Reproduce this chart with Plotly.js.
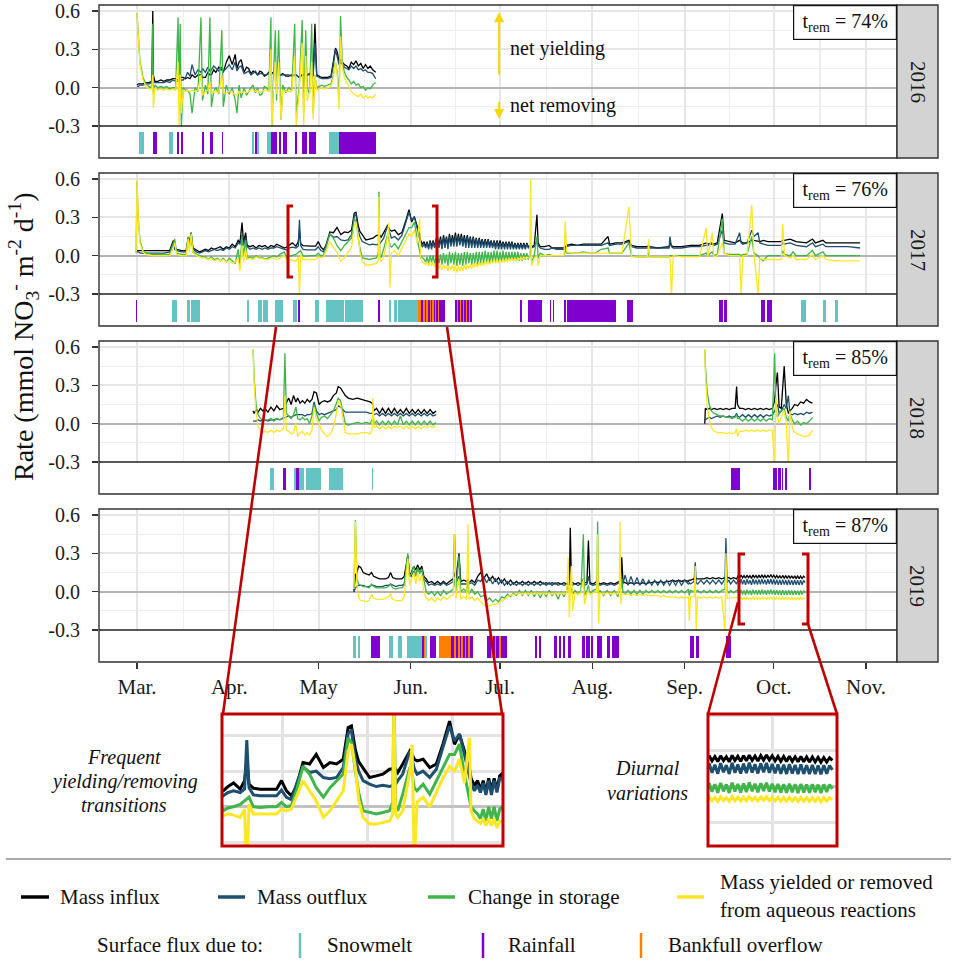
<!DOCTYPE html>
<html><head><meta charset="utf-8">
<script src="https://cdn.plot.ly/plotly-3.0.1.min.js"></script>
<style>html,body{margin:0;padding:0;background:#fff}#chart{width:957px;height:962px}</style>
</head><body><div id="chart"></div>
<script>
// ---------- DATA (day = days since 1 March) ----------
// rows: [day, mass influx, mass outflux, change in storage, mass yielded/removed]
const year2016 = [
[0,.02,.01,.58,.58],[0.5,.03,.01,.35,.33],[1,.03,.02,.2,.18],[2,.03,.02,.08,.06],[3,.04,.03,.03,.01],[4,.04,.03,.01,-.01],
[5,.05,.04,0,-.01],[5.3,.6,.1,.5,.1],[5.5,.1,.05,-.05,-.16],[6,.05,.04,.02,0],[7,.05,.04,0,-.02],[8,.06,.04,.01,-.01],
[9,.05,.04,0,-.02],[10,.06,.05,.01,-.01],[11,.06,.04,-.01,-.02],[12,.07,.06,0,-.01],[13,.07,.05,0,-.02],
[13.8,.06,.05,.55,.2],[14.1,.07,.05,-.05,-.3],[14.5,.08,.06,.5,.1],[14.9,.08,.06,-.3,-.2],[15.5,.08,.06,0,-.02],
[16.3,.07,.08,-.02,-.03],[17,.08,.12,-.02,-.02],[17.8,.07,.09,-.05,-.03],[18.5,.1,.18,-.2,-.02],[19.5,.08,.1,0,-.03],
[20.5,.1,.14,-.03,-.02],[21.5,.1,.12,.55,.1],[22,.08,.15,-.1,-.06],[23,.08,.12,.02,-.03],[23.8,.12,.16,-.05,-.02],
[24.5,.1,.13,.55,.05],[25,.1,.14,-.15,-.05],[25.8,.14,.17,-.03,-.03],[26.5,.12,.15,0,-.03],[27.5,.16,.13,-.05,-.04],
[28.5,.14,.16,.45,.1],[29,.12,.13,-.15,-.04],[30,.2,.15,.02,-.04],[31,.25,.18,-.05,-.03],[32,.18,.14,0,-.04],
[33,.26,.2,-.1,-.05],[33.6,.15,.13,-.2,-.06],[34.3,.2,.16,.02,-.03],[35,.22,.17,-.08,-.04],[36,.12,.11,0,-.03],
[36.8,.16,.12,-.06,-.04],[37.5,.15,.13,-.03,-.03],[38.3,.11,.1,0,-.02],[39,.13,.11,.02,-.02],[39.8,.12,.13,-.04,-.03],
[40.5,.1,.1,0,-.02],[41.3,.13,.11,-.06,-.04],[42,.12,.11,-.05,-.03],[42.8,.09,.1,.01,-.02],[43.5,.1,.1,0,-.02],
[44.3,.12,.11,-.03,-.03],[45,.1,.1,.55,.3],[45.3,.12,.11,-.35,-.35],[45.8,.11,.11,.05,0],[46.5,.13,.12,.45,.2],
[46.9,.12,.1,-.1,-.05],[47.6,.1,.1,.45,.2],[48.4,.1,.1,-.25,-.25],[49,.11,.1,.02,-.02],[50,.09,.1,-.04,-.03],
[51,.09,.1,0,-.03],[52,.1,.09,-.02,-.03],[53,.1,.1,.5,.25],[53.5,.1,.1,-.2,-.3],[54.5,.08,.08,0,-.03],
[55.5,.1,.1,.53,.35],[56,.1,.1,-.2,-.3],[56.7,.1,.1,.45,.25],[57.2,.1,.1,0,-.1],[58,.11,.1,-.05,-.04],
[58.7,.12,.1,.5,.2],[59.2,.1,.09,-.2,-.25],[59.8,.5,.35,.1,.1],[60.4,.1,.09,0,-.02],[61.2,.09,.08,.01,-.01],
[62,.08,.07,.02,0],[63,.08,.07,.01,-.01],[64,.08,.07,.02,0],[65.2,.09,.08,.03,.01],[66,.2,.18,.1,.08],
[66.7,.31,.3,.2,.2],[67.3,.28,.25,.12,.1],[67.9,.2,.18,-.1,-.17],[68.4,.22,.2,.56,.4],[69,.2,.18,.2,.15],
[69.7,.18,.16,.12,.08],[70.5,.17,.15,.08,.04],[71.2,.15,.14,.06,0],[72,.2,.17,.03,-.03],[72.8,.18,.15,.05,-.05],
[73.6,.21,.17,.02,-.06],[74.4,.17,.14,.03,-.07],[75.2,.19,.15,0,-.05],[76,.15,.13,.01,-.08],[76.8,.18,.14,-.02,-.06],
[77.6,.15,.12,0,-.08],[78.4,.17,.12,-.01,-.07],[79.2,.14,.11,.02,-.08],[80.2,.12,.07,.04,-.05]
];
const year2017 = [
[-0.3,.03,.02,.02,.02],[0,.04,.03,.58,.6],[0.4,.04,.03,.3,.3],[1,.04,.02,.12,.1],[2,.04,.02,.04,.03],[3,.04,.02,.02,.01],
[5,.04,.02,.01,0],[7,.04,.02,.01,0],[9,.04,.02,.01,0],[11,.04,.03,.01,0],[12.2,.12,.1,.1,.06],[12.7,.07,.05,.13,.1],
[13.3,.05,.04,.02,.01],[15,.04,.03,.01,0],[16.5,.04,.03,.01,0],[17.2,.14,.12,.15,.13],[17.6,.1,.08,.06,.03],
[18.2,.18,.15,.18,.17],[18.8,.06,.05,.03,.02],[20,.04,.03,.01,0],[21,.03,.02,0,-.01],[22,.04,.03,-.01,-.02],
[23,.05,.04,-.01,-.02],[24,.04,.03,-.03,-.03],[25,.06,.04,-.01,-.02],[26,.05,.05,-.03,-.04],[27,.06,.04,-.02,-.03],
[28,.07,.05,-.04,-.04],[29,.05,.04,-.02,-.03],[30,.07,.06,-.05,-.05],[31,.06,.05,-.02,-.04],[32,.09,.07,-.04,-.06],
[33,.07,.06,-.06,-.05],[34,.12,.1,.05,-.02],[34.6,.1,.09,-.08,-.12],[35.3,.26,.16,.15,.08],[35.8,.1,.08,0,-.05],
[36.5,.18,.14,.12,.05],[37,.08,.07,-.02,-.03],[38,.07,.05,-.01,-.02],[39,.08,.06,-.02,-.03],[40,.06,.05,0,-.01],
[41,.08,.06,-.02,-.02],[42,.07,.05,-.01,-.02],[43,.08,.06,-.03,-.03],[44,.06,.05,-.02,-.03],[45,.08,.06,-.01,-.02],
[46,.07,.06,0,-.02],[47,.09,.07,-.01,-.03],[48,.08,.06,.01,-.02],[49.5,.06,.05,.03,0],
[50.3,.067,.046,-.017,-.038],[51.2,.085,.06,-.005,-.03],[52.2,.1,.067,0,-.035],[53.4,.074,.06,.01,-.045],
[54.2,.11,.075,.025,-.01],[54.6,.2,.28,.03,-.3],[55,.095,.08,.04,.01],[55.8,.078,.05,0,-.03],[57,.074,.046,-.003,-.03],
[58.5,.074,.046,0,-.03],[60,.074,.046,0,-.03],[60.9,.11,.07,.018,-.01],[61.8,.067,.04,0,-.017],[62.7,.046,.03,.005,-.01],
[63.6,.085,.095,.067,.04],[64.8,.186,.17,.17,.11],[66,.18,.144,.137,.067],[67.2,.22,.15,.08,.025],[68.5,.165,.123,.04,-.045],
[69.7,.186,.118,.08,-.017],[70.9,.18,.123,.11,.025],[72.1,.2,.165,.137,.067],[73,.333,.31,.29,.235],[73.6,.34,.32,.27,.263],
[74.3,.24,.2,.15,.165],[74.9,.19,.15,.06,.03],[75.7,.165,.11,-.017,-.045],[76.9,.123,.095,-.024,-.073],[78.1,.13,.085,-.03,-.073],
[79.3,.137,.09,-.024,-.066],[80.5,.158,.085,-.017,-.06],[81.1,.16,.09,.02,-.03],[81.3,.17,.1,.5,.46],[81.6,.158,.095,0,-.03],
[82,.144,.11,-.017,-.045],[82.9,.18,.137,.053,-.017],[84.2,.235,.235,.165,.15],[84.6,.22,.2,.14,.26],[85,.2,.16,.08,-.25],
[85.5,.193,.137,.067,.02],[86.6,.2,.15,.095,.04],[87.8,.165,.123,.053,0],[89,.18,.158,.11,.06],[90.2,.263,.25,.165,.12],
[91.4,.36,.34,.22,.17],[92.3,.263,.277,.22,.15],[93.2,.305,.305,.263,.2],[94.1,.235,.22,.137,.1],[95,.165,.123,.04,.29],
[95.3,.12,.1,0,-.02],[95.9,.088,.067,-.017,-.05],[96.5,.11,.09,-.03,-.06],[97,.07,.06,-.05,-.07],[97.5,.11,.1,-.01,-.05],
[98,.06,.05,-.06,-.08],[98.5,.12,.11,0,-.05],[99,.07,.05,-.05,-.08],[99.5,.12,.11,0,-.05],[100,.07,.06,-.06,-.09],
[100.5,.13,.12,-.01,-.06],
[101,.14,.12,0,-.06],[101.5,.08,.06,-.06,-.1],[102,.15,.13,.01,-.07],[102.5,.07,.05,-.07,-.11],[103,.16,.14,.02,-.07],
[103.5,.09,.06,-.06,-.1],[104,.15,.14,.01,-.08],[104.5,.08,.05,-.08,-.12],[105,.17,.15,.03,-.08],[105.5,.09,.07,-.06,-.11],
[106,.16,.14,.02,-.07],[106.5,.1,.07,-.07,-.12],[107,.18,.16,.03,-.07],[107.5,.09,.07,-.08,-.13],[108,.17,.15,.02,-.08],
[108.5,.1,.08,-.07,-.12],[109,.17,.15,.02,-.08],[109.5,.09,.07,-.08,-.12],[110,.16,.14,.03,-.07],[110.5,.09,.06,-.07,-.11],
[111,.16,.15,.03,-.07],[111.5,.09,.06,-.06,-.1],[112,.15,.14,.02,-.07],[112.5,.08,.06,-.07,-.1],[113,.15,.14,.02,-.06],
[113.5,.08,.06,-.06,-.09],[114,.14,.13,.03,-.06],[114.5,.08,.06,-.07,-.09],[115,.14,.13,.03,-.05],[115.5,.08,.06,-.06,-.08],
[116,.13,.12,.03,-.05],[116.5,.08,.06,-.06,-.08],[117,.13,.12,.04,-.04],[117.5,.08,.06,-.05,-.07],[118,.13,.12,.03,-.04],
[118.5,.08,.06,-.06,-.07],[119,.12,.11,.03,-.04],[119.5,.07,.06,-.05,-.06],[120,.12,.11,.04,-.03],[120.5,.07,.05,-.05,-.06],
[121,.12,.11,.04,-.03],[121.5,.07,.05,-.05,-.06],[122,.12,.1,.03,-.03],[122.5,.07,.05,-.05,-.05],[123,.11,.1,.04,-.03],
[123.5,.07,.05,-.05,-.05],[124,.11,.1,.03,-.02],[124.5,.07,.05,-.04,-.05],[125,.11,.1,.03,-.02],[125.5,.07,.05,-.04,-.04],
[126,.11,.1,.03,-.02],[126.5,.06,.05,-.04,-.04],[127,.1,.09,.03,-.02],[127.5,.06,.05,-.04,-.04],[128,.1,.09,.03,-.02],
[128.5,.06,.05,-.04,-.03],[129,.1,.09,.02,-.01],[129.5,.06,.05,-.04,-.03],[130,.1,.09,.02,-.01],[130.5,.06,.05,-.03,-.02],
[131,.1,.09,.02,-.01],[131.5,.07,.06,-.03,-.02],[132,.08,.07,0,-.02],
[132.3,.08,.07,.1,.6],[132.6,.07,.06,-.05,-.08],
[133.5,.08,.07,0,-.02],[134.4,.32,.12,.15,0],[134.8,.1,.08,-.02,-.08],[135.5,.07,.06,.02,0],[137,.07,.05,0,0],
[138.5,.08,.05,.01,0],[139.5,.06,.06,0,0],[141,.06,.05,0,0],[143.5,.06,.05,0,0],[143.9,.07,.06,.05,.27],
[144.4,.08,.07,.02,.03],[146,.09,.08,.02,.02],[148,.08,.08,.02,.02],[150,.09,.08,.03,.02],[152,.09,.08,.02,.02],
[154,.09,.08,.02,.02],[156,.09,.08,.05,.02],[158.3,.15,.1,.06,.02],[158.8,.09,.08,.02,.02],[161,.1,.09,.02,.02],
[163,.1,.09,.02,.02],[165.3,.12,.11,.1,.38],[166.2,.08,.07,0,-.01],[168,.07,.06,-.01,-.01],[171.6,.07,.06,-.01,-.01],
[171.9,.08,.07,.03,.13],[172.3,.07,.06,-.01,-.01],[175,.06,.06,-.01,-.01],[178.8,.07,.06,-.01,-.01],[179.1,.1,.15,0,-.01],
[179.6,.08,.07,0,-.32],[180.2,.07,.06,0,0],[183,.07,.06,0,-.01],[186,.08,.07,0,-.01],[189,.08,.07,0,-.01],
[191.3,.1,.08,.02,.22],[191.8,.09,.08,0,-.01],[193.3,.1,.09,.03,.18],[193.8,.09,.08,0,-.01],[195,.1,.09,.01,0],
[196.7,.33,.2,.29,.1],[197.3,.12,.1,.02,.02],[199,.11,.09,.01,0],[201,.1,.09,.01,0],[202.5,.12,.18,.01,0],
[203,.11,.1,0,-.3],[203.6,.1,.09,.01,0],[205,.1,.1,.01,0],[206.6,.12,.2,.15,.4],[207.3,.12,.15,.02,.02],
[208.7,.11,.18,0,-.3],[209.3,.11,.1,-.02,-.02],[210.5,.12,.09,-.04,-.03],[212,.11,.08,0,-.03],[214,.11,.08,0,-.03],
[216.5,.11,.08,0,-.03],[217,.12,.1,.04,.25],[217.6,.12,.09,.01,0],[219.5,.13,.1,0,-.02],[220.5,.12,.09,.03,0],
[221.5,.11,.08,0,-.03],[225,.1,.07,0,-.03],[227,.13,.1,.04,.01],[228,.1,.07,0,-.03],[230.5,.12,.09,.03,0],
[231.5,.1,.07,0,-.03],[235,.1,.07,0,-.04],[239,.1,.07,0,-.04],[243,.1,.06,0,-.04]
];
const year2018 = [
[39,.1,.02,.58,.58],[39.4,.08,.02,.35,.3],[40,.11,.02,.15,.08],[40.7,.09,.03,.07,-.02],[41.5,.12,.02,.04,-.05],
[42.3,.1,.03,.03,-.07],[43,.12,.03,.03,-.06],[44,.09,.02,.03,-.07],[45,.13,.03,.04,-.05],[46,.1,.03,.02,-.07],
[47,.14,.04,.04,-.05],[48,.11,.03,.03,-.06],[49.2,.12,.04,.05,-.04],[49.7,.14,.05,.55,.22],[50.2,.16,.05,.08,-.05],
[51,.2,.06,.06,-.06],[51.8,.15,.05,.04,-.08],[52.6,.22,.06,.07,-.07],[53.4,.17,.07,.13,0],[54,.2,.07,.04,-.1],
[54.8,.16,.07,.03,-.07],[55.6,.18,.07,.05,-.06],[56.4,.16,.06,.03,-.09],[57.2,.19,.07,.04,-.07],[58,.17,.07,0,-.09],
[58.8,.19,.08,.06,-.05],[59.5,.25,.17,.15,.13],[60.3,.24,.1,.08,.03],[61.2,.15,.07,.02,0],[62,.17,.08,.05,-.05],
[63,.18,.07,.06,-.08],[64,.17,.08,.04,-.1],[65,.18,.09,.07,-.08],[66,.22,.1,.1,-.03],[67,.24,.11,.16,.08],
[67.6,.29,.14,.2,.18],[68.4,.28,.13,.18,.15],[69.2,.25,.11,.1,.03],[70,.22,.09,0,-.07],[71,.2,.09,-.01,-.08],
[72.5,.19,.09,0,-.08],[74,.2,.09,.01,-.08],[75.5,.19,.09,0,-.07],[77,.18,.09,.01,-.07],[78.3,.17,.08,0,-.08],
[79,.16,.08,.03,-.05],[79.3,.15,.09,.06,.2],[79.7,.1,.07,0,-.03],[80.5,.12,.08,.02,-.02],[81.5,.08,.06,-.01,-.04],
[82.5,.12,.08,.02,-.02],[83.5,.08,.06,-.01,-.04],[84.5,.12,.08,.02,-.02],[85.5,.08,.06,-.01,-.04],[86.5,.12,.08,.02,-.02],
[87.5,.08,.06,-.01,-.03],[88.5,.11,.08,.06,-.02],[89.5,.08,.06,-.01,-.04],[90.5,.12,.08,.02,-.02],[91.5,.08,.06,-.01,-.04],
[92.5,.11,.08,.02,-.02],[93.5,.08,.06,-.01,-.04],[94.5,.11,.08,.02,-.02],[95.5,.08,.06,-.01,-.04],[96.5,.11,.08,.02,-.02],
[97.5,.08,.06,-.01,-.03],[98.5,.11,.08,.02,-.02],[99.5,.08,.06,-.01,-.03],[100.5,.1,.07,.01,-.02],
[150,null,null,null,null],
[190.8,0,.03,.58,.58],[191,.12,.03,.45,.4],[191.6,.11,.04,.25,.15],[192.3,.12,.05,.15,.03],[193,.11,.04,.1,-.03],
[194,.12,.05,.08,-.06],[195,.11,.06,.07,-.07],[196,.12,.05,.06,-.07],[197,.11,.06,.06,-.07],[198,.12,.05,.05,-.08],
[199,.11,.06,.05,-.07],[200,.12,.05,.04,-.08],[201,.12,.06,.05,-.07],[201.5,.29,.08,.07,-.04],[201.8,.15,.06,.04,-.1],
[202.5,.12,.05,.04,-.06],[203.5,.12,.07,.02,-.06],[204.5,.11,.05,.04,-.05],[205.5,.12,.07,.02,-.06],[206.5,.11,.05,.04,-.05],
[207.5,.12,.07,.02,-.06],[208.5,.11,.05,.04,-.05],[209.5,.12,.07,.02,-.06],[210.5,.11,.05,.04,-.05],[211.5,.12,.07,.02,-.06],
[212.5,.11,.06,.04,-.05],[213.5,.12,.07,.03,-.05],[214.3,.18,.1,.55,-.35],[214.7,.3,.12,.1,.2],[215.2,.4,.15,.05,.05],
[215.8,.13,.08,.08,0],[216.5,.12,.1,.1,.05],[217.5,.45,.15,.12,.1],[218.2,.15,.12,.05,0],[218.9,.08,.22,.02,-.35],
[219.4,.1,.08,.08,.1],[220.2,.12,.07,.03,-.03],[221,.15,.08,0,-.07],[222,.14,.07,.02,-.08],[223,.17,.08,-.01,-.09],
[224,.16,.07,.01,-.1],[225,.19,.09,0,-.1],[226,.17,.08,.02,-.09],[227,.16,.09,.05,-.05]
];
const year2019 = [
[72.9,0,0,.02,.02],[73.4,.13,.03,.56,.55],[73.9,.15,.04,.1,.05],[74.5,.2,.05,.06,-.05],[75.2,.19,.05,.05,-.07],
[76,.15,.05,.04,-.07],[77,.14,.04,.04,-.08],[78,.13,.04,.03,-.07],[78.8,.15,.05,.06,-.02],[79.5,.12,.05,.04,-.05],
[80.5,.11,.04,.03,-.06],[81.5,.1,.04,.03,-.06],[82.5,.1,.04,.03,-.06],[83.5,.1,.05,.03,-.05],[84.5,.11,.05,.04,-.04],
[85.2,.15,.06,.06,-.02],[85.9,.11,.05,.03,-.06],[87,.1,.04,.02,-.07],[88,.1,.05,.03,-.07],[89,.1,.05,.03,-.07],
[89.8,.12,.06,.05,-.04],[90.4,.22,.18,.2,.15],[91,.28,.28,.3,.26],[91.6,.13,.13,.12,.05],[92.2,.15,.12,.14,.1],
[93,.2,.16,.2,.15],[93.7,.17,.13,.12,.06],[94.3,.21,.18,.19,.15],[95,.17,.15,.14,.08],[95.7,.2,.17,.18,.13],
[96.4,.12,.1,.08,0],[97.2,.1,.08,0,-.05],[98,.07,.05,-.02,-.07],[99,.08,.06,0,-.05],[100,.06,.05,-.03,-.08],
[101,.08,.06,0,-.05],[102,.06,.05,-.03,-.07],[103,.08,.07,.01,-.04],[104,.06,.05,-.02,-.06],[105,.08,.06,0,-.04],
[106.3,.1,.08,.02,-.02],[106.7,.15,.45,.1,.45],[107.2,.09,.07,0,-.05],[108.2,.3,.12,.28,.1],[108.8,.08,.06,0,-.06],
[109.8,.09,.06,.02,-.04],[110.8,.08,.06,0,-.06],[111.2,.09,.08,.1,.53],[111.6,.07,.06,-.02,-.06],[112.5,.09,.07,.02,-.04],
[113.5,.07,.05,-.02,-.07],[114.5,.12,.09,0,-.05],[115.5,.15,.08,-.04,-.08],[116.5,.1,.12,-.03,-.1],[117.5,.14,.07,-.07,-.12],
[118.5,.09,.11,-.05,-.11],[119.5,.12,.06,-.08,-.1],[120.5,.08,.1,-.06,-.1],[121.5,.11,.06,-.08,-.09],[122.5,.07,.09,-.04,-.07],
[123.5,.1,.05,-.05,-.06],[124.5,.06,.08,-.02,-.04],[125.5,.09,.05,-.04,-.03],[126.5,.06,.07,-.01,-.02],[127.5,.08,.05,-.03,-.02],
[128.5,.06,.07,.01,-.01],[129.5,.08,.05,-.03,-.02],[130.5,.06,.07,.01,-.01],[131.5,.08,.05,-.03,-.02],[132.5,.06,.07,.01,-.01],
[133.5,.08,.05,-.04,-.02],[134.5,.06,.07,0,-.01],[135.5,.08,.05,-.05,-.02],[136.5,.06,.07,0,-.01],[137.5,.07,.05,-.04,-.02],
[138.5,.06,.07,.01,-.01],[139.5,.07,.05,-.03,-.02],[140.5,.06,.07,0,-.01],[141.5,.07,.05,-.06,-.02],[142.5,.06,.06,0,-.01],
[143.5,.07,.05,-.04,-.02],[144.4,.06,.06,.01,-.01],[144.9,.07,.06,.05,.27],[145.3,.07,.05,0,-.2],[145.6,.5,.1,.02,0],
[146,.07,.06,.03,.2],[146.4,.07,.05,-.02,-.15],[147.2,.06,.06,.01,-.01],[148.2,.07,.05,-.02,-.02],[149.2,.06,.06,.01,-.01],
[150,.1,.08,.45,.1],[150.4,.07,.05,-.03,-.1],[151.2,.07,.06,.01,-.01],[151.7,.4,.12,.05,0],[152.2,.07,.06,-.02,-.02],
[153.3,.06,.05,.01,-.01],[154.5,.08,.06,.02,0],[154.8,.12,.1,.55,.45],[155.1,.07,.06,-.02,-.25],[155.6,.06,.05,.01,-.01],
[156.8,.07,.06,-.03,-.02],[158,.06,.05,.01,-.01],[159.2,.07,.06,-.03,-.02],[160.4,.06,.05,.01,-.01],[161.6,.07,.06,-.04,-.02],
[162.1,.08,.07,.03,.02],[162.3,.1,.08,.05,.55],[162.6,.09,.07,.02,-.1],[162.9,.27,.1,.1,-.02],[163.3,.08,.06,0,-.02],
[164,.07,.13,-.02,-.02],[165,.06,.05,.01,-.02],[166,.07,.12,-.02,-.03],[167,.06,.05,.01,-.02],[168,.07,.11,-.02,-.03],
[169,.06,.05,.01,-.02],[170,.07,.1,-.02,-.03],[171,.06,.05,.01,-.02],[172,.07,.09,-.01,-.03],[173,.07,.05,.01,-.03],
[174,.08,.09,-.01,-.03],[175,.07,.05,.01,-.03],[176,.08,.09,-.01,-.04],[177,.07,.05,.01,-.03],[178,.08,.09,-.01,-.04],
[179,.08,.05,.01,-.04],[180,.09,.09,-.01,-.04],[181,.08,.05,.01,-.04],[182,.09,.09,-.01,-.05],[183,.08,.05,.01,-.04],
[184,.09,.09,-.01,-.05],[185.3,.08,.06,.02,-.04],[185.6,.09,.07,-.03,-.23],[186,.09,.06,.01,-.04],[187.2,.1,.08,0,-.04],
[187.6,.12,.23,.02,.2],[187.9,.1,.07,0,-.3],[188.4,.1,.06,.01,-.04],[189.5,.1,.09,-.01,-.05],[190.5,.1,.06,.01,-.04],
[191.5,.11,.09,-.01,-.05],[192.5,.1,.06,.01,-.04],[193.5,.11,.09,-.01,-.05],[194.5,.1,.06,.01,-.04],[195.5,.11,.09,-.01,-.05],
[196.5,.1,.06,.01,-.04],[197.6,.11,.1,.02,-.3],[197.9,.12,.42,.2,.3],[198.3,.11,.07,.01,-.05],[198.9,.11,.09,-.01,-.05],
[199.5,.1,.06,.01,-.05],[200.5,.11,.09,-.01,-.05],[201.5,.1,.06,.01,-.05],
[202,.127,.094,.012,-.045],[202.5,.106,.056,-.024,-.061],[203,.13,.097,.014,-.044],[203.5,.108,.058,-.022,-.06],
[204,.126,.092,.01,-.046],[204.5,.105,.054,-.026,-.063],[205,.129,.098,.015,-.043],[205.5,.109,.06,-.02,-.059],
[206,.125,.09,.009,-.047],[206.5,.104,.053,-.027,-.062],[207,.131,.1,.016,-.042],[207.5,.11,.058,-.021,-.06],
[208,.127,.093,.011,-.045],[208.5,.106,.055,-.025,-.061],[209,.13,.096,.013,-.044],[209.5,.108,.057,-.023,-.06],
[210,.132,.1,.017,-.042],[210.5,.11,.059,-.02,-.058],[211,.128,.094,.012,-.045],[211.5,.107,.055,-.024,-.061],
[212,.13,.097,.014,-.044],[212.5,.111,.06,-.019,-.058],[213,.133,.099,.016,-.043],[213.5,.112,.058,-.021,-.059],
[214,.129,.095,.012,-.045],[214.5,.108,.056,-.024,-.061],[215,.127,.093,.011,-.045],[215.5,.106,.054,-.025,-.062],
[216,.126,.092,.01,-.046],[216.5,.105,.053,-.026,-.062],[217,.127,.094,.012,-.045],[217.5,.106,.055,-.024,-.061],
[218,.125,.091,.01,-.047],[218.5,.104,.052,-.027,-.063],[219,.126,.093,.011,-.046],[219.5,.104,.053,-.025,-.062],
[220,.124,.09,.009,-.047],[220.5,.103,.052,-.026,-.063],[221,.124,.091,.01,-.046],[221.5,.104,.053,-.024,-.062],
[222,.123,.089,.008,-.047],[222.5,.102,.051,-.027,-.064],[223,.122,.09,.009,-.046],[223.5,.103,.054,-.023,-.061],
[224,.121,.088,.008,-.047],[224.5,.11,.07,-.01,-.055]
];
// surface flux periods [start day, end day]
const snowmelt2016 = [[0.8,2.4],[10.9,12.2],[38.7,39.4],[40.4,41],[43.8,44.9],[64.6,68]];
const rainfall2016 = [[5.3,6.6],[13.5,14.1],[14.8,15.3],[21.8,22.4],[24.5,25.6],[28.4,29],[39.6,40.4],[45,46.9],[47.6,48.3],[49.2,50.5],[53.1,53.9],[55.3,57],[57.8,60.1],[68,80.2]];
const bankfull2016 = [];
const snowmelt2017 = [[11.7,13.3],[16.7,17.8],[18.3,21.2],[36.9,37.8],[40.8,41.9],[42.4,43.9],[46.4,49.2],[52.5,53.6],[59.8,61.2],[63.5,69.6],[70,76],[84.7,85.5],[86.2,87.3],[87.6,94.5],[223.3,224.8],[230.6,231.7],[234.5,235.7]];
const rainfall2017 = [[-0.4,0.1],[54,54.8],[81.1,81.7],[95.5,96],[96.8,97.2],[97.8,98.3],[98.8,99.3],[99.7,100.2],[100.6,101.1],[101.4,103.5],[106.9,107.6],[108,108.6],[109,109.6],[110,110.6],[111,111.5],[111.9,112.5],[128.7,129.5],[131.5,136],[138.8,139.1],[139.7,140.1],[143.5,144.2],[144.6,161],[164.6,166.8],[195.7,196.8],[197.2,198.4],[209.7,210.9],[211.8,213.3]];
const bankfull2017 = [[94.5,95.5],[96,96.8],[97.2,97.8],[98.3,98.8],[99.3,99.7],[100.2,100.6],[101.1,101.4],[107.6,108],[108.6,109],[109.6,110],[110.6,111],[111.5,111.9]];
const snowmelt2018 = [[44.7,46.1],[52.8,53.3],[54.4,56.1],[56.8,61.7],[64.6,69.1],[78.9,79.2]];
const rainfall2018 = [[49.2,50.1],[53.3,54.4],[199.6,202.6],[213.6,215.2],[215.5,216.3],[216.6,217.2],[217.8,218.6],[225.9,226.4]];
const bankfull2018 = [];
const snowmelt2019 = [[72.7,73.6],[74.3,75.1],[84.7,85.9],[87.6,88.9],[90.6,95.7],[96.8,97.6]];
const rainfall2019 = [[78.6,81.7],[95.9,96.3],[98.5,100.4],[105.5,106.5],[107.2,107.8],[108.4,109],[109.5,110.2],[110.7,111.3],[111.8,113],[117.5,118.9],[119.5,120.2],[120.8,121.6],[122.2,124.2],[133.7,134.5],[135.1,135.7],[140.3,141],[141.7,142.5],[143.3,143.9],[144.7,146],[149.4,150.6],[151,152.2],[152.6,153.3],[154.5,156.3],[158.1,158.9],[159.7,162],[185.8,187.2],[188,188.8],[197.9,199.5]];
const bankfull2019 = [[96.3,96.8],[101.5,105.5],[106.5,107.2],[107.8,108.4],[109,109.5],[110.2,110.7],[111.3,111.8],[118.9,119.5],[120.2,120.8],[121.6,122.2]];

const yearLabels = ['2016','2017','2018','2019'];
const tremLabels = ['74%','76%','85%','87%'];
const seriesNames = ['Mass influx','Mass outflux','Change in storage','Mass yielded or removed from aqueous reactions'];
const monthDays = [0,31,61,92,122,153,184,214,245];
const monthLabels = ['Mar.','Apr.','May','Jun.','Jul.','Aug.','Sep.','Oct.','Nov.'];
const midMonthDays = [15.5,46,76.5,107,137.5,168.5,199,229.5];

// ---------- STYLE / GEOMETRY ----------
const FONT = 'Liberation Serif';
const W = 957, H = 962;
const PX = x => x / W, PY = y => 1 - y / H;
const panelTop = [5, 173, 341, 509];
const LINE_H = 121, PANEL_H = 153;
const X0 = 99, X1 = 897, STRIP1 = 938;
const xRange = [-12.77, 255.4];
const lineColors = ['#000000', '#1d4f70', '#40b549', '#fde725'];
const cSnow = '#66c3c3', cRain = '#8000d0', cBank = '#ff8000';
const RED = '#c00000';

const allYears = [year2016, year2017, year2018, year2019];
const snowAll = [snowmelt2016, snowmelt2017, snowmelt2018, snowmelt2019];
const rainAll = [rainfall2016, rainfall2017, rainfall2018, rainfall2019];
const bankAll = [bankfull2016, bankfull2017, bankfull2018, bankfull2019];

const traces = [];
const layout = {
  width: W, height: H, margin: {l:0, r:0, t:0, b:0},
  paper_bgcolor: '#fff', plot_bgcolor: '#fff', showlegend: false,
  barmode: 'overlay', bargap: 0, hovermode: false,
  font: {family: FONT, color: '#1a1a1a'},
  shapes: [], annotations: []
};

function lineTraces(rows, xa, ya, width) {
  const t = rows.map(r => r[0]);
  for (let k = 0; k < 4; k++) {
    traces.push({type:'scatter', mode:'lines', x:t, y:rows.map(r => r[k+1]),
      xaxis:xa, yaxis:ya, line:{color:lineColors[k], width:width}, connectgaps:false,
      name: seriesNames[k], hoverinfo:'skip'});
  }
}
function barTrace(iv, col, xa, ya) {
  if (!iv.length) return;
  traces.push({type:'bar', x: iv.map(v => (v[0]+v[1])/2), width: iv.map(v => v[1]-v[0]),
    y: iv.map(() => 0.68), base: 0.14, marker:{color:col, line:{width:0}},
    xaxis:xa, yaxis:ya, hoverinfo:'skip'});
}

allYears.forEach((rows, i) => {
  const top = panelTop[i], mid = top + LINE_H, bot = top + PANEL_H;
  const nL = 2*i+1, nB = 2*i+2;
  lineTraces(rows, 'x'+nL, 'y'+nL, 1.3);
  barTrace(snowAll[i], cSnow, 'x'+nB, 'y'+nB);
  barTrace(rainAll[i], cRain, 'x'+nB, 'y'+nB);
  barTrace(bankAll[i], cBank, 'x'+nB, 'y'+nB);

  layout['xaxis'+nL] = {domain:[PX(X0),PX(X1)], range:xRange, anchor:'y'+nL,
    tickvals: monthDays, showticklabels:false, ticks:'', showgrid:true, gridcolor:'#e6e6e6', gridwidth:2,
    minor:{tickvals: midMonthDays, showgrid:true, gridcolor:'#eeeeee', gridwidth:1.2, ticks:''},
    zeroline:false, showline:false, fixedrange:true};
  layout['yaxis'+nL] = {domain:[PY(mid),PY(top)], range:[-0.3,0.647], anchor:'x'+nL,
    tickvals:[-0.3,0,0.3,0.6], ticktext:['-0.3','0.0','0.3','0.6'], ticks:'outside', ticklen:6,
    tickwidth:1.2, tickcolor:'#333', ticklabelstandoff:8,
    tickfont:{size:20, color:'#1a1a1a', family:FONT},
    showgrid:true, gridcolor:'#e6e6e6', gridwidth:2,
    minor:{tickvals:[-0.15,0.15,0.45], showgrid:true, gridcolor:'#eeeeee', gridwidth:1.2, ticks:''},
    zeroline:true, zerolinecolor:'#b3b3b3', zerolinewidth:1.8, showline:false, fixedrange:true};
  layout['xaxis'+nB] = {domain:[PX(X0),PX(X1)], range:xRange, anchor:'y'+nB,
    showgrid:false, zeroline:false, showline:false, fixedrange:true,
    showticklabels: i === 3, ticks: i === 3 ? 'outside' : '', ticklen:6, tickwidth:1.2, tickcolor:'#333',
    tickvals: monthDays, ticktext: monthLabels, tickfont:{size:21, color:'#1a1a1a', family:FONT}};
  layout['yaxis'+nB] = {domain:[PY(bot),PY(mid)], range:[0,1], anchor:'x'+nB,
    showgrid:false, zeroline:false, showticklabels:false, ticks:'', showline:false, fixedrange:true};

  layout.shapes.push({type:'rect', xref:'paper', yref:'paper', x0:PX(X0), x1:PX(X1), y0:PY(bot), y1:PY(top),
    line:{color:'#333', width:1.4}, fillcolor:'rgba(0,0,0,0)', layer:'above'});
  layout.shapes.push({type:'line', xref:'paper', yref:'paper', x0:PX(X0), x1:PX(X1), y0:PY(mid), y1:PY(mid),
    line:{color:'#222', width:1.4}, layer:'above'});
  layout.shapes.push({type:'rect', xref:'paper', yref:'paper', x0:PX(X1), x1:PX(STRIP1), y0:PY(bot), y1:PY(top),
    line:{color:'#333', width:1.4}, fillcolor:'#d3d3d3', layer:'above'});
  layout.annotations.push({xref:'paper', yref:'paper', x:PX((X1+STRIP1)/2), y:PY((top+bot)/2),
    xanchor:'center', yanchor:'middle',
    text:yearLabels[i], textangle:90, showarrow:false, font:{size:21, color:'#1a1a1a', family:FONT}});
  layout.annotations.push({xref:'paper', yref:'paper', x:PX(X1), y:PY(top), xanchor:'right', yanchor:'top',
    text:'t<sub>rem</sub> = ' + tremLabels[i], showarrow:false, bgcolor:'#fff', bordercolor:'#111', borderwidth:1.2,
    borderpad:2, width:98, height:29, align:'center', font:{size:20, color:'#111', family:FONT}});
});

// Insets
lineTraces(year2017, 'x9', 'y9', 3);
lineTraces(year2019, 'x10', 'y10', 3);
const insetGrid = {showgrid:true, gridcolor:'#e3e3e3', gridwidth:3, showticklabels:false, ticks:'', showline:false, fixedrange:true};
layout.xaxis9 = Object.assign({domain:[PX(222),PX(503)], range:[50.1,101.1], anchor:'y9', tickvals:[61,76.5,92], zeroline:false}, insetGrid);
layout.yaxis9 = Object.assign({domain:[PY(846),PY(714)], range:[-0.165,0.39], anchor:'x9', tickvals:[-0.15,0.15,0.3],
  zeroline:true, zerolinecolor:'#c2c2c2', zerolinewidth:3}, insetGrid);
layout.xaxis10 = Object.assign({domain:[PX(708),PX(837)], range:[202.8,225.3], anchor:'y10', tickvals:[214], zeroline:false}, insetGrid);
layout.yaxis10 = Object.assign({domain:[PY(846),PY(714)], range:[-0.25,0.305], anchor:'x10', tickvals:[-0.15,0.15,0.3],
  zeroline:true, zerolinecolor:'#c2c2c2', zerolinewidth:3}, insetGrid);

function pPath(pts) { return pts.map((p, k) => (k ? 'L ' : 'M ') + PX(p[0]) + ' ' + PY(p[1])).join(' '); }
const redPaths = [
  [[293,206],[288,206],[288,277],[293,277]],
  [[432,206],[437,206],[437,277],[432,277]],
  [[745,554],[739,554],[739,624],[745,624]],
  [[802,554],[808,554],[808,624],[802,624]]
];
redPaths.forEach(p => layout.shapes.push({type:'path', xref:'paper', yref:'paper', path:pPath(p), line:{color:RED, width:3}, layer:'above'}));
[[276,327,223,714],[447,327,502,714],[738,602,708,714],[808,624,837,714]].forEach(l =>
  layout.shapes.push({type:'line', xref:'paper', yref:'paper', x0:PX(l[0]), y0:PY(l[1]), x1:PX(l[2]), y1:PY(l[3]), line:{color:RED, width:2.6}, layer:'above'}));
[[222,714,503,846],[708,714,837,846]].forEach(r =>
  layout.shapes.push({type:'rect', xref:'paper', yref:'paper', x0:PX(r[0]), y0:PY(r[3]), x1:PX(r[2]), y1:PY(r[1]), line:{color:RED, width:3}, fillcolor:'rgba(0,0,0,0)', layer:'above'}));

layout.annotations.push({xref:'x', yref:'y', axref:'x', ayref:'y', x:121.7, y:0.59, ax:121.7, ay:0.035,
  showarrow:true, arrowhead:2, arrowsize:1, arrowwidth:2, arrowcolor:'#f7d700', text:' '});
layout.annotations.push({xref:'x', yref:'y', axref:'x', ayref:'y', x:121.7, y:-0.245, ax:121.7, ay:-0.045,
  showarrow:true, arrowhead:2, arrowsize:1, arrowwidth:2, arrowcolor:'#f7d700', text:' '});
layout.annotations.push({xref:'paper', yref:'paper', x:PX(508), y:PY(48), xanchor:'left', yanchor:'middle',
  text:'net yielding', showarrow:false, font:{size:20, color:'#111', family:FONT}});
layout.annotations.push({xref:'paper', yref:'paper', x:PX(508), y:PY(106), xanchor:'left', yanchor:'middle',
  text:'net removing', showarrow:false, font:{size:20, color:'#111', family:FONT}});

layout.annotations.push({xref:'paper', yref:'paper', x:PX(23), y:PY(337), xanchor:'center', yanchor:'middle', textangle:-90, showarrow:false,
  text:'Rate (mmol NO<sub>3</sub><sup>-</sup> m<sup>-2</sup> d<sup>-1</sup>)', font:{size:28, color:'#111', family:FONT}});

[['Frequent',124,757],['yielding/removing',124,781],['transitions',124,805],['Diurnal',647,768],['variations',647,793]].forEach(c =>
  layout.annotations.push({xref:'paper', yref:'paper', x:PX(c[1]), y:PY(c[2]), xanchor:'center', yanchor:'middle', showarrow:false,
    text:'<i>'+c[0]+'</i>', font:{size:20, color:'#111', family:FONT}}));

layout.shapes.push({type:'line', xref:'paper', yref:'paper', x0:PX(6), x1:PX(951), y0:PY(859), y1:PY(859), line:{color:'#8c8c8c', width:1.5}});
const legX = [[21,49],[218,245],[428,455],[677,704]];
legX.forEach((p, k) => {
  layout.shapes.push({type:'line', xref:'paper', yref:'paper', x0:PX(p[0]), x1:PX(p[1]), y0:PY(897), y1:PY(897), line:{color:lineColors[k], width:3.5}});
});
const legText = [['Mass influx',58,897],['Mass outflux',255,897],['Change in storage',466,897],
  ['Mass yielded or removed',718,882],['from aqueous reactions',718,910],
  ['Surface flux due to:',95,945],['Snowmelt',325,945],['Rainfall',506,945],['Bankfull overflow',666,945]];
legText.forEach(t => layout.annotations.push({xref:'paper', yref:'paper', x:PX(t[1]), y:PY(t[2]), xanchor:'left', yanchor:'middle',
  showarrow:false, text:t[0], font:{size:21, color:'#111', family:FONT}}));
[[300,cSnow],[483,cRain],[641,cBank]].forEach(s =>
  layout.shapes.push({type:'line', xref:'paper', yref:'paper', x0:PX(s[0]), x1:PX(s[0]), y0:PY(958), y1:PY(933), line:{color:s[1], width:2.5}}));

Plotly.newPlot('chart', traces, layout, {staticPlot:true, displayModeBar:false});
</script></body></html>
